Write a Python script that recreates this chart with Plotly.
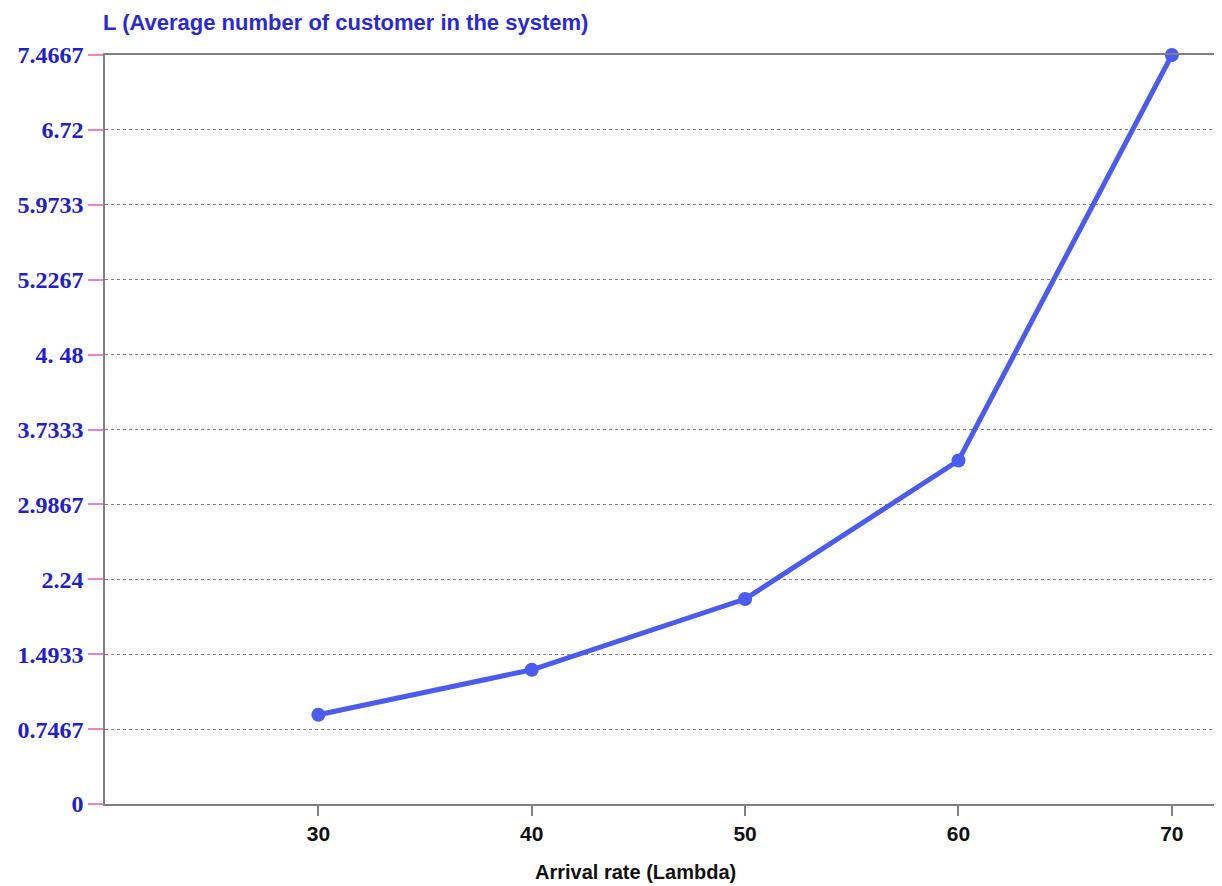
import plotly.graph_objects as go

arrival_rate = [30, 40, 50, 60, 70]
avg_customers = [0.89, 1.338, 2.043, 3.424, 7.4667]
y_tick_values = [0, 0.74667, 1.49333, 2.24, 2.98667, 3.73333, 4.48, 5.22667, 5.97333, 6.72, 7.4667]
y_tick_labels = ["0", "0.7467", "1.4933", "2.24", "2.9867", "3.7333", "4. 48", "5.2267", "5.9733", "6.72", "7.4667"]
x_tick_values = [30, 40, 50, 60, 70]

W, H = 1214, 878  # page body has an 8px margin

fig = go.Figure()
fig.add_trace(go.Scatter(
    x=arrival_rate, y=avg_customers, mode="lines+markers",
    line=dict(color="#4a5cf0", width=5),
    marker=dict(color="#4a5cf0", size=14),
    cliponaxis=False, showlegend=False,
))

fig.add_annotation(
    text="<b>Arrival rate (Lambda)</b>", xref="paper", yref="paper",
    x=(635 - 105) / 1117, y=-(872 - 804) / 749, xanchor="center", yanchor="middle",
    showarrow=False, font=dict(family="Liberation Sans", size=20, color="#111111"),
)

fig.update_layout(
    width=W, height=H,
    margin=dict(l=97, r=0, t=47, b=82),
    paper_bgcolor="white", plot_bgcolor="white",
    title=dict(
        text="<b>L (Average number of customer in the system)</b>",
        font=dict(family="Liberation Sans", size=22, color="#2a2ad4"),
        xref="container", yref="container", x=95 / W, y=1 - 14 / H,
        xanchor="left", yanchor="middle",
    ),
    xaxis=dict(
        range=[20, 72.35], tickvals=x_tick_values,
        ticktext=[f"<b>{v}</b>" for v in x_tick_values],
        showgrid=False, zeroline=False,
        showline=True, linecolor="#808080", linewidth=1.5, mirror=True,
        ticks="outside", ticklen=10, tickcolor="#808080", tickwidth=1.5,
        tickfont=dict(family="Liberation Sans", size=21, color="#111111"),
    ),
    yaxis=dict(
        range=[0, 7.4667], tickvals=y_tick_values,
        ticktext=[f"<b>{t}</b>" for t in y_tick_labels],
        showgrid=True, gridcolor="#808080", griddash="dot", gridwidth=1,
        zeroline=False,
        showline=True, linecolor="#808080", linewidth=1.5,
        ticks="outside", ticklen=15, tickcolor="#f080c8", tickwidth=1.5,
        tickfont=dict(family="Liberation Serif", size=24, color="#2020cc"),
    ),
)

fig.write_html("out.html")
